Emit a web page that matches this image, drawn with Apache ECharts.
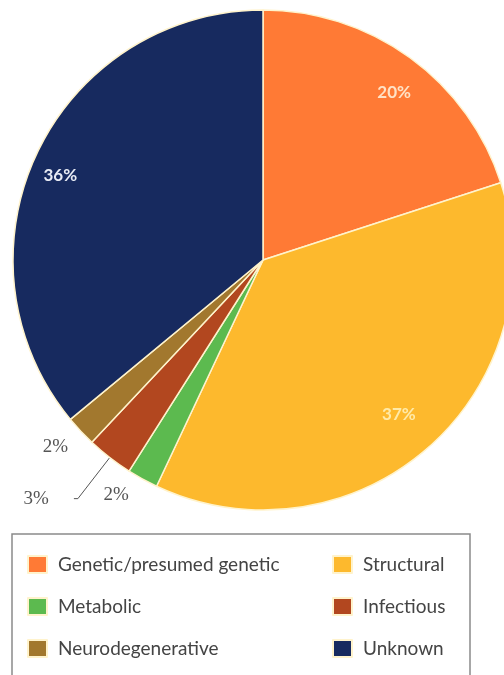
<!DOCTYPE html>
<html>
<head>
<meta charset="utf-8">
<script src="https://cdn.jsdelivr.net/npm/echarts@6/dist/echarts.min.js"></script>
<style>
html,body{margin:0;padding:0;background:#fff;}
#chart{width:504px;height:675px;}
</style>
</head>
<body>
<div id="chart"></div>
<script>
// ---- data ----
const categories = ['Genetic/presumed genetic', 'Structural', 'Metabolic', 'Infectious', 'Neurodegenerative', 'Unknown'];
const shares = [20, 37, 2, 3, 2, 36];
const legendLeft = ['Genetic/presumed genetic', 'Metabolic', 'Neurodegenerative'];
const legendRight = ['Structural', 'Infectious', 'Unknown'];

// ---- styles ----
const palette = ['#FF7A35', '#FDB92D', '#5CBA4F', '#B2471F', '#A2782E', '#172A5F'];
const innerLabelColors = ['#FFE2C6', '#FFEAA8', null, null, null, '#E8EBF4'];
const FONT = 'Lato';

const chart = echarts.init(document.getElementById('chart'), null, {renderer: 'canvas'});

const outsideLabelCfg = {
  2: {line: {show: false, length: 18, length2: 0}, dist: 5},
  3: {line: {show: true, length: 52, length2: 4, lineStyle: {color: '#555', width: 1}}, dist: 25},
  4: {line: {show: false, length: 20, length2: 0}, dist: 5}
};
const outerNudge = {4: {dx: 7, dy: 2}};
const innerNudge = {0: {dx: 6, dy: 5}, 1: {dx: -5, dy: -5}, 5: {dx: -10, dy: 6}};

const mainData = categories.map((name, i) => {
  const cfg = outsideLabelCfg[i];
  return {
    name: name,
    value: shares[i],
    itemStyle: {color: palette[i]},
    label: cfg ? {show: true, position: 'outside', distanceToLabelLine: cfg.dist} : {show: false},
    labelLine: cfg ? cfg.line : {show: false}
  };
});

const ringData = categories.map((name, i) => ({
  name: name,
  value: shares[i],
  label: innerLabelColors[i] ? {show: true, color: innerLabelColors[i]} : {show: false}
}));

const legendCommon = {
  orient: 'vertical',
  top: 555,
  padding: 0,
  itemWidth: 19,
  itemHeight: 17,
  itemGap: 23,
  icon: 'rect',
  selectedMode: false,
  textStyle: {fontFamily: FONT, fontSize: 19, color: '#444', padding: [0, 0, 0, 6]}
};

chart.setOption({
  animation: false,
  backgroundColor: '#fff',
  legend: [
    Object.assign({}, legendCommon, {left: 27, data: legendLeft}),
    Object.assign({}, legendCommon, {left: 332, data: legendRight})
  ],
  graphic: [{
    type: 'rect',
    shape: {x: 12, y: 534, width: 458, height: 170},
    style: {fill: 'none', stroke: '#8a8a8a', lineWidth: 1.5},
    silent: true,
    z: -1
  }],
  series: [
    {
      type: 'pie',
      center: [263, 260],
      radius: [0, 250],
      startAngle: 90,
      clockwise: true,
      avoidLabelOverlap: false,
      silent: true,
      itemStyle: {borderColor: '#FFF3CC', borderWidth: 1.5},
      label: {formatter: '{c}%', fontFamily: 'Liberation Serif', fontSize: 19, color: '#555'},
      labelLayout: function (p) { return outerNudge[p.dataIndex] || {}; },
      data: mainData
    },
    {
      type: 'pie',
      center: [263, 260],
      radius: [170, 250],
      startAngle: 90,
      clockwise: true,
      silent: true,
      legendHoverLink: false,
      itemStyle: {color: 'rgba(0,0,0,0)', borderWidth: 0},
      label: {position: 'inside', formatter: '{c}%', fontFamily: FONT, fontSize: 17, fontWeight: 'bold'},
      labelLine: {show: false},
      labelLayout: function (p) { return innerNudge[p.dataIndex] || {}; },
      data: ringData
    }
  ]
});
</script>
</body>
</html>
